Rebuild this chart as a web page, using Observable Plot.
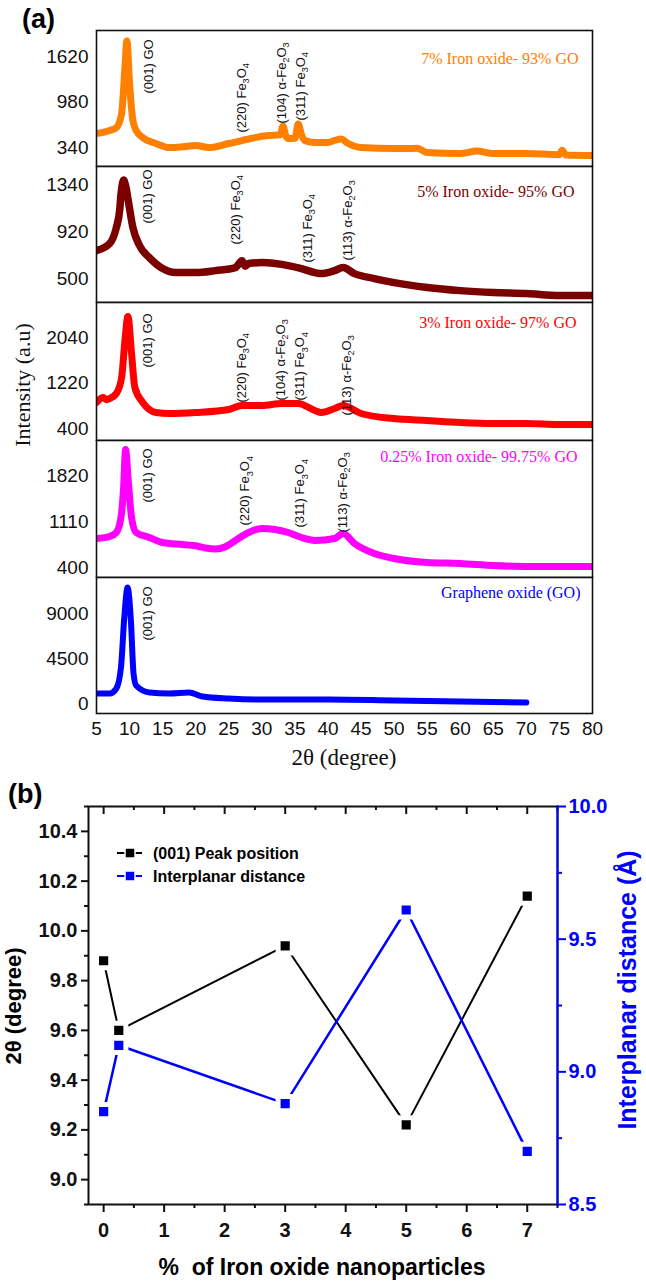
<!DOCTYPE html>
<html><head><meta charset="utf-8">
<script src="https://cdn.jsdelivr.net/npm/d3@7"></script>
<script src="https://cdn.jsdelivr.net/npm/@observablehq/plot@0.6"></script>
<style>
body{margin:0;background:#fff;}
#root{position:relative;width:646px;height:1283px;overflow:hidden;background:#fff;font-family:"Liberation Sans",Arial,sans-serif;}
.abs{position:absolute;left:0;}
</style></head><body><div id="root"></div>
<script>
// ---------- Panel (a) data: XRD patterns (2θ in degrees, intensity a.u.) ----------
const x7  = [5,7,8,8.8,9.3,9.6,10,10.5,11,12,14,16,18,20,22,25,27,29,31,32.8,33.2,33.6,34,35,35.5,36,36.5,38,40,41,42,43,45,50,52,53.5,55,60,62.5,65,70,75,75.4,76,80];
const y7  = [537,579,621,818,1465,1840,1240,720,579,480,396,340,350,368,340,396,438,480,508,520,640,510,466,470,670,520,438,410,410,440,460,400,340,325,325,330,270,255,290,255,255,240,300,235,227];
const x5  = [5,7,8,8.5,8.7,9.1,9.4,9.8,10.5,11.5,13,15,17,20,23,26,27,27.5,28,30,32,34,36,38,39,41,42.3,44,47,50,55,60,65,70,75,80];
const y5  = [750,813,956,1108,1250,1380,1330,1197,956,795,687,589,553,553,571,598,660,610,634,643,634,616,589,553,544,571,598,544,500,464,420,392,375,366,348,348];
const x3  = [5,6,6.5,7,8,8.8,9.3,9.75,10.3,10.8,12,14,16,20,25,27,30,33,35.5,38,39,41,42.3,45,50,55,60,65,70,75,80];
const y3  = [869,960,920,941,1031,1319,1986,2420,1752,1139,869,689,671,689,743,815,815,851,851,725,689,761,815,671,580,544,508,490,490,472,472];
const x025 = [5,7,8,8.7,9.1,9.4,9.8,10.3,11,13,15,18,20,21.5,23,24.5,26,28,30,32,34,36,38,41,42.3,44,47,50,55,60,65,70,75,80];
const y025 = [848,879,940,1172,1635,2220,1743,1172,940,863,786,755,735,700,685,720,817,940,1002,987,940,863,817,848,925,771,617,539,478,462,431,416,416,416];
const xGO = [5,7,8,8.7,9.2,9.7,10.2,10.6,11,13,16,19,21,25,30,40,50,60,70];
const yGO = [1000,1000,1500,3600,8600,11600,8300,3000,1800,1100,1000,1100,700,500,400,400,300,200,100];

const sampleNames = ["7% Iron oxide- 93% GO","5% Iron oxide- 95% GO","3% Iron oxide- 97% GO","0.25% Iron oxide- 99.75% GO","Graphene oxide (GO)"];
const sampleColors = ["#FF8000","#7B0000","#FF0000","#FF00FF","#0000FF"];
const yTicks = [[340,980,1620],[500,920,1340],[400,1220,2040],[400,1110,1820],[0,4500,9000]];
const yDomains = [[73,1986],[286,1501],[184,2671],[246,2360],[-1000,12600]];
const xTicksA = [5,10,15,20,25,30,35,40,45,50,55,60,65,70,75,80];

// peak annotations: [2θ, intensity at label start, text]
const peaks7 = [[12.9,1099,"(001) GO"],[26.9,551,"(220) Fe_3O_4"],[33.0,677,"(104) α-Fe_2O_3"],[35.85,720,"(311) Fe_3O_4"]];
const peaks5 = [[12.7,991,"(001) GO"],[26.0,804,"(220) Fe_3O_4"],[36.9,643,"(311) Fe_3O_4"],[43.0,661,"(113) α-Fe_2O_3"]];
const peaks3 = [[12.7,1499,"(001) GO"],[26.9,869,"(220) Fe_3O_4"],[32.8,905,"(104) α-Fe_2O_3"],[35.8,905,"(311) Fe_3O_4"],[42.8,634,"(113) α-Fe_2O_3"]];
const peaks025 = [[12.7,1403,"(001) GO"],[27.5,1049,"(220) Fe_3O_4"],[35.8,1018,"(311) Fe_3O_4"],[42.2,940,"(113) α-Fe_2O_3"]];
const peaksGO = [[12.7,6300,"(001) GO"]];

// ---------- Panel (b) data ----------
const ironPct = [0, 0.25, 3, 5, 7];
const peakPosition = [9.88, 9.60, 9.94, 9.22, 10.14];      // 2θ (degree)
const interplanar = [8.85, 9.10, 8.88, 9.61, 8.70];          // Å
const leftTicks = [9.0,9.2,9.4,9.6,9.8,10.0,10.2,10.4];
const leftMinor = [8.9,9.1,9.3,9.5,9.7,9.9,10.1,10.3,10.5];
const rightTicks = [8.5,9.0,9.5,10.0];
const rightMinor = [8.75,9.25,9.75];
const xTicksB = [0,1,2,3,4,5,6,7];
const xMinorB = [0.5,1.5,2.5,3.5,4.5,5.5,6.5,7.5];

const root = document.getElementById("root");
const SANS = "'Liberation Sans', Arial, sans-serif";
const SERIF = "'Liberation Serif', 'Times New Roman', serif";
const plain = d => String(d);

function subify(svg, base) {
  svg.querySelectorAll("text").forEach(t => {
    const s = t.textContent;
    if (!s.includes("_")) return;
    t.textContent = "";
    const parts = s.split(/_(\d)/);
    let lowered = false;
    parts.forEach((p, k) => {
      if (!p) return;
      const ts = document.createElementNS("http://www.w3.org/2000/svg", "tspan");
      if (k % 2) { ts.setAttribute("font-size", (base*0.7).toFixed(1)); ts.setAttribute("dy", (base*0.25).toFixed(1)); lowered = true; }
      else if (lowered) { ts.setAttribute("dy", (-base*0.25).toFixed(1)); lowered = false; }
      ts.textContent = p;
      t.appendChild(ts);
    });
  });
}

const series = [[x7,y7,peaks7],[x5,y5,peaks5],[x3,y3,peaks3],[x025,y025,peaks025],[xGO,yGO,peaksGO]];
const tops = [30,166,302,440,577];
const heights = [136,136,138,137,136];
const labelDx = [-14,-18,-16,-15,-12];
const labelDy = [22.6,19.6,14.6,10.6,9.6];
const traceWidth = [7,7.5,7,7,6];

series.forEach(([xs, ys, pk], i) => {
  const bottom = i === 4;
  const data = xs.map((x, j) => ({x, y: ys[j]}));
  const ann = pk.map(([x, y, text]) => ({x, y, text}));
  const mB = bottom ? 61 : 1;
  const p = Plot.plot({
    width: 646, height: heights[i] + 1 + mB,
    marginLeft: 96, marginRight: 54, marginTop: 1, marginBottom: mB,
    x: {domain: [5, 80], axis: bottom ? undefined : null},
    y: {domain: yDomains[i]},
    style: {background: "transparent", fontFamily: SANS},
    marks: [
      Plot.line(data, {x: "x", y: "y", stroke: sampleColors[i], strokeWidth: traceWidth[i], curve: "monotone-x", clip: true, strokeLinejoin: "round"}),
      Plot.axisY({ticks: yTicks[i], tickSize: 0, tickPadding: 8, tickFormat: plain, fontSize: 19, label: null, fill: "#111"}),
      bottom ? Plot.axisX({ticks: xTicksA, tickSize: 0, tickPadding: 8, tickFormat: plain, fontSize: 19, label: null, fill: "#111"}) : null,
      Plot.text(ann, {x: "x", y: "y", text: "text", rotate: -90, textAnchor: "start", fontSize: 13, fill: "#111"}),
      Plot.text([sampleNames[i]], {frameAnchor: "top-right", text: d => d, dx: labelDx[i], dy: labelDy[i], fill: sampleColors[i], fontFamily: SERIF, fontSize: 16}),
      Plot.frame({stroke: "#111", strokeWidth: 1.6})
    ]
  });
  subify(p, 13);
  const wrap = document.createElement("div");
  wrap.className = "abs";
  wrap.style.top = (tops[i] - 1) + "px";
  wrap.appendChild(p);
  root.appendChild(wrap);
});

// ---------- Panel (b) ----------
const toLeft = v => 8.9 + (v - 8.5) * 1.6 / 1.5;
const fromLeft = v => 8.5 + (v - 8.9) * 1.5 / 1.6;
const blackData = ironPct.map((p, i) => ({p, v: peakPosition[i]}));
const blueData = ironPct.map((p, i) => ({p, v: toLeft(interplanar[i])}));
const none = () => "";
const innerH = 493 - 16 - 79;
const SW = 2;

const pb = Plot.plot({
  width: 646, height: 493,
  marginLeft: 88, marginRight: 89, marginTop: 16, marginBottom: 79,
  x: {domain: [-0.25, 7.5]},
  y: {domain: [8.9, 10.5]},
  style: {background: "transparent", fontFamily: SANS},
  marks: [
    Plot.frame({stroke: "#111", strokeWidth: SW}),
    Plot.axisY({anchor: "left", ticks: leftTicks, tickSize: 7, tickPadding: 4, tickFormat: ".1f", fontSize: 20, fontWeight: "bold", label: null, stroke: "#111", fill: "#111", strokeWidth: SW}),
    Plot.axisY({anchor: "left", ticks: leftMinor, tickSize: 4, tickFormat: none, label: null, stroke: "#111", strokeWidth: SW}),
    Plot.axisX({anchor: "bottom", ticks: xTicksB, tickSize: 8, tickPadding: 10, fontSize: 20, fontWeight: "bold", label: null, stroke: "#111", fill: "#111", strokeWidth: SW}),
    Plot.axisX({anchor: "bottom", ticks: xMinorB, tickSize: 4, tickFormat: none, label: null, stroke: "#111", strokeWidth: SW}),
    Plot.tickX(xTicksB, {x: d => d, insetBottom: innerH - 8, stroke: "#111", strokeWidth: SW}),
    Plot.tickX(xMinorB, {x: d => d, insetBottom: innerH - 4, stroke: "#111", strokeWidth: SW}),
    Plot.axisY({anchor: "right", ticks: rightTicks.map(toLeft), tickSize: 8, tickPadding: 3, tickFormat: d => fromLeft(d).toFixed(1), fontSize: 20, fontWeight: "bold", label: null, stroke: "#0000FF", fill: "#0000FF", strokeWidth: SW}),
    Plot.axisY({anchor: "right", ticks: rightMinor.map(toLeft), tickSize: 4, tickFormat: none, label: null, stroke: "#0000FF", strokeWidth: SW}),
    Plot.frame({anchor: "right", stroke: "#0000FF", strokeWidth: SW}),
    Plot.line(blackData, {x: "p", y: "v", stroke: "#000", strokeWidth: 2}),
    Plot.line(blueData, {x: "p", y: "v", stroke: "#0000FF", strokeWidth: 2.5}),
    Plot.dot(blackData, {x: "p", y: "v", symbol: "square", r: 8, fill: "#000", stroke: "#fff", strokeWidth: 5}),
    Plot.dot(blueData, {x: "p", y: "v", symbol: "square", r: 8, fill: "#0000FF", stroke: "#fff", strokeWidth: 5})
  ]
});
const wb = document.createElement("div");
wb.className = "abs";
wb.style.top = "790px";
wb.appendChild(pb);
root.appendChild(wb);

// ---------- Titles, panel letters and legend ----------
const ov = document.createElementNS("http://www.w3.org/2000/svg", "svg");
ov.setAttribute("width", 646); ov.setAttribute("height", 1283);
ov.setAttribute("style", "position:absolute;left:0;top:0;pointer-events:none");
ov.innerHTML = `
  <g font-family="${SANS}" fill="#000">
    <text x="22" y="28" font-size="27" font-weight="bold">(a)</text>
    <text x="8" y="803" font-size="27" font-weight="bold">(b)</text>
    <text transform="translate(21,1006) rotate(-90)" text-anchor="middle" font-size="22" font-weight="bold">2θ (degree)</text>
    <text transform="translate(636,990) rotate(-90)" text-anchor="middle" font-size="25" font-weight="bold" fill="#0000FF">Interplanar distance (Å)</text>
    <text x="322" y="1275" text-anchor="middle" font-size="23" font-weight="bold">%\u00A0 of Iron oxide nanoparticles</text>
    <line x1="117" x2="142" y1="853" y2="853" stroke="#000" stroke-width="2"/>
    <rect x="125" y="848" width="10" height="10" fill="#000" stroke="#fff" stroke-width="1.5"/>
    <text x="153" y="859" font-size="16" font-weight="bold">(001) Peak position</text>
    <line x1="117" x2="142" y1="876" y2="876" stroke="#0000FF" stroke-width="2"/>
    <rect x="125" y="871" width="10" height="10" fill="#0000FF" stroke="#fff" stroke-width="1.5"/>
    <text x="153" y="882" font-size="16" font-weight="bold">Interplanar distance</text>
  </g>
  <g font-family="${SERIF}" fill="#111">
    <text transform="translate(30,385) rotate(-90)" text-anchor="middle" font-size="22">Intensity (a.u)</text>
    <text x="344" y="765" text-anchor="middle" font-size="23">2θ (degree)</text>
  </g>`;
root.appendChild(ov);
</script></body></html>
